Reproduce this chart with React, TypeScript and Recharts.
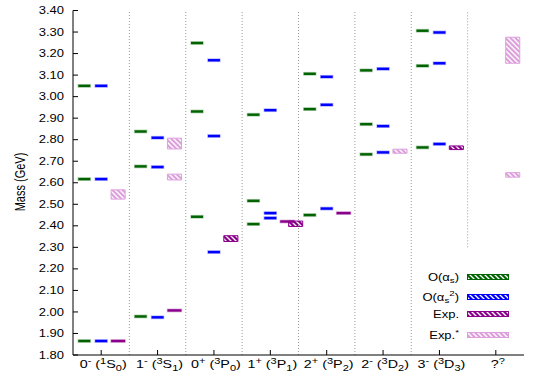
import React from "react";
import {
  ComposedChart,
  Scatter,
  XAxis,
  YAxis,
  ReferenceLine,
  ReferenceArea,
} from "recharts";

// quantum numbers for each column: J, parity, and 2S+1 / L / J term
const SPIN = ["0", "1", "0", "1", "2", "2", "3", "?"];
const PARITY = ["-", "-", "+", "+", "+", "-", "-", "?"];
const TERMS: (string[] | null)[] = [
  ["1", "S", "0"],
  ["3", "S", "1"],
  ["3", "P", "0"],
  ["3", "P", "1"],
  ["3", "P", "2"],
  ["3", "D", "2"],
  ["3", "D", "3"],
  null,
];

const Y_TICKS = [
  1.8, 1.9, 2.0, 2.1, 2.2, 2.3, 2.4, 2.5, 2.6, 2.7, 2.8, 2.9, 3.0, 3.1, 3.2, 3.3, 3.4,
];

// predicted masses (GeV) per column
const O_AS = [
  [3.05, 2.617, 1.865],
  [2.838, 2.676, 1.979],
  [3.249, 2.931, 2.442],
  [2.916, 2.516, 2.408],
  [3.106, 2.942, 2.45],
  [3.122, 2.872, 2.732],
  [3.306, 3.143, 2.764],
  [],
];
const O_AS2 = [
  [3.05, 2.617, 1.865],
  [2.809, 2.673, 1.975],
  [3.169, 2.817, 2.278],
  [2.937, 2.459, 2.436],
  [3.092, 2.962, 2.48],
  [3.129, 2.863, 2.741],
  [3.298, 3.155, 2.78],
  [],
];

// experimental states: narrow ones as levels, broad ones as bands
const EXP_LEVELS = [[1.865], [2.007], [], [2.42], [2.459], [], [], []];
const EXP_BANDS = [
  { cat: 2, lo: 2.327, hi: 2.354, slot: "exp" },
  { cat: 3, lo: 2.397, hi: 2.422, slot: "side" },
  { cat: 6, lo: 2.754, hi: 2.771, slot: "exp" },
];
const EXPSTAR_BANDS = [
  { cat: 0, lo: 2.524, hi: 2.567, slot: "exp" },
  { cat: 1, lo: 2.757, hi: 2.807, slot: "exp" },
  { cat: 1, lo: 2.613, hi: 2.64, slot: "exp" },
  { cat: 5, lo: 2.737, hi: 2.756, slot: "exp" },
  { cat: 7, lo: 3.155, hi: 3.276, slot: "exp" },
  { cat: 7, lo: 2.626, hi: 2.647, slot: "exp" },
];

const SLOT: Record<string, number> = { as: -0.3, as2: 0, exp: 0.3, side: 0.45 };

const GREEN = "#006400";
const BLUE = "#0000ff";
const PURPLE = "#8b008b";
const PLUM = "#dda0dd";
const FONT = "'Liberation Sans', Arial, sans-serif";
const SX = 1.3;

const toPoints = (rows: number[][], slot: string) =>
  rows.flatMap((vals, i) => vals.map((v) => ({ x: i + 0.5 + SLOT[slot], y: v })));

const levelShape = (color: string, w: number) => (props: any) => {
  const { cx, cy } = props;
  return (
    <rect
      x={cx - w / 2}
      y={cy - 1.2}
      width={w}
      height={2.4}
      fill={color}
      stroke={color}
      strokeOpacity={0.3}
      strokeWidth={1.4}
    />
  );
};

function ST({ x, y, anchor, children, size = 10 }: any) {
  return (
    <text
      transform={`translate(${x},${y}) scale(${SX},1)`}
      textAnchor={anchor}
      fontSize={size}
      fontFamily={FONT}
      fill="#000"
      style={{ whiteSpace: "pre" }}
    >
      {children}
    </text>
  );
}

const LeftTick = ({ x, y, payload }: any) => (
  <g>
    <line x1={x + 9} x2={x + 14} y1={y} y2={y} stroke="#000" />
    <ST x={x} y={y + 3.6} anchor="end">
      {payload.value.toFixed(2)}
    </ST>
  </g>
);

const RightTick = ({ x, y }: any) => (
  <line x1={x - 5} x2={x} y1={y} y2={y} stroke="#000" />
);

const TopTick = ({ x, y }: any) => (
  <line x1={x} x2={x} y1={y} y2={y + 5} stroke="#000" />
);

const BottomTick = ({ x, y, payload }: any) => {
  const i = Math.floor(payload.value);
  const t = TERMS[i];
  return (
    <g>
      <line x1={x} x2={x} y1={y} y2={y - 5} stroke="#000" />
      <ST x={x + 2} y={y + 13} anchor="middle" size={11}>
        <tspan>{SPIN[i]}</tspan>
        <tspan dy={-4.5} fontSize={8.5}>
          {PARITY[i]}
        </tspan>
        {t ? (
          <>
            <tspan dy={4.5}>{" ("}</tspan>
            <tspan dy={-4.5} fontSize={8.5}>
              {t[0]}
            </tspan>
            <tspan dy={4.5}>{t[1]}</tspan>
            <tspan dy={2.5} fontSize={8.5}>
              {t[2]}
            </tspan>
            <tspan dy={-2.5}>)</tspan>
          </>
        ) : null}
      </ST>
    </g>
  );
};

const hatch = (id: string, color: string) => (
  <pattern id={id} patternUnits="userSpaceOnUse" width={5} height={5}>
    <rect width={5} height={5} fill={color} />
    <path d="M-1,-1 L6,6 M-1,4 L1,6 M4,-1 L6,1" stroke="#fff" strokeWidth={1.3} />
  </pattern>
);

const X_TICKS = SPIN.map((_, i) => i + 0.5);
const SEPARATORS = SPIN.slice(1).map((_, i) => i + 1);

const LEGEND = [
  { key: "as", color: GREEN, y: 277 },
  { key: "as2", color: BLUE, y: 297 },
  { key: "exp", color: PURPLE, y: 314 },
  { key: "star", color: PLUM, y: 335 },
];

const legendText = (key: string) => {
  if (key === "as")
    return (
      <>
        <tspan>O(α</tspan>
        <tspan dy={2.5} fontSize={7.5}>s</tspan>
        <tspan dy={-2.5}>)</tspan>
      </>
    );
  if (key === "as2")
    return (
      <>
        <tspan>O(α</tspan>
        <tspan dy={2.5} fontSize={7.5}>s</tspan>
        <tspan dy={-7} fontSize={7.5}>2</tspan>
        <tspan dy={4.5}>)</tspan>
      </>
    );
  if (key === "exp") return <tspan>Exp.</tspan>;
  return (
    <>
      <tspan>Exp.</tspan>
      <tspan dy={-4} fontSize={7.5}>*</tspan>
    </>
  );
};

export default function App() {
  const bands = [
    ...EXP_BANDS.map((b) => ({ ...b, color: PURPLE, fillId: "h-exp" })),
    ...EXPSTAR_BANDS.map((b) => ({ ...b, color: PLUM, fillId: "h-star" })),
  ];
  return (
    <div style={{ position: "absolute", left: 0, top: 0, width: 538, height: 377, background: "#fff" }}>
      <ComposedChart
        width={538}
        height={377}
        margin={{ top: 10.5, right: 14, bottom: 0, left: 0 }}
      >
        <defs>
          {hatch("h-as", GREEN)}
          {hatch("h-as2", BLUE)}
          {hatch("h-exp", PURPLE)}
          {hatch("h-star", PLUM)}
        </defs>
        <XAxis
          type="number"
          dataKey="x"
          domain={[0, 8]}
          ticks={X_TICKS}
          height={22}
          tickSize={0}
          tickMargin={0}
          tickLine={false}
          axisLine={{ stroke: "#000" }}
          tick={<BottomTick />}
          interval={0}
        />
        <XAxis
          xAxisId="top"
          orientation="top"
          type="number"
          domain={[0, 8]}
          ticks={X_TICKS}
          height={0}
          tickSize={0}
          tickMargin={0}
          tickLine={false}
          axisLine={{ stroke: "#000" }}
          tick={<TopTick />}
          interval={0}
        />
        <YAxis
          type="number"
          dataKey="y"
          domain={[1.8, 3.4]}
          ticks={Y_TICKS}
          width={73}
          tickSize={0}
          tickMargin={9}
          tickLine={false}
          axisLine={{ stroke: "#000" }}
          tick={<LeftTick />}
          interval={0}
        />
        <YAxis
          yAxisId="right"
          orientation="right"
          type="number"
          domain={[1.8, 3.4]}
          ticks={Y_TICKS}
          width={0}
          tickSize={0}
          tickMargin={0}
          tickLine={false}
          axisLine={{ stroke: "#000" }}
          tick={<RightTick />}
          interval={0}
        />
        {SEPARATORS.map((s) => (
          <ReferenceLine
            key={s}
            segment={[
              { x: s, y: s === 7 ? 2.3 : 1.8 },
              { x: s, y: 3.4 },
            ]}
            stroke="#9a9a9a"
            strokeDasharray="1 2"
          />
        ))}
        {bands.map((b, i) => {
          const c = b.cat + 0.5 + SLOT[b.slot];
          return (
            <ReferenceArea
              key={i}
              x1={c - 0.125}
              x2={c + 0.125}
              y1={b.lo}
              y2={b.hi}
              fill={`url(#${b.fillId})`}
              fillOpacity={1}
              stroke={b.color}
              strokeWidth={1}
            />
          );
        })}
        <Scatter
          data={toPoints(O_AS, "as")}
          shape={levelShape(GREEN, 12)}
          isAnimationActive={false}
        />
        <Scatter
          data={toPoints(O_AS2, "as2")}
          shape={levelShape(BLUE, 12)}
          isAnimationActive={false}
        />
        <Scatter
          data={toPoints(EXP_LEVELS, "exp")}
          shape={levelShape(PURPLE, 14)}
          isAnimationActive={false}
        />
      </ComposedChart>
      <svg
        width={538}
        height={377}
        style={{ position: "absolute", left: 0, top: 0, pointerEvents: "none" }}
      >
        <text
          transform={`translate(25,182) scale(${SX},1) rotate(-90)`}
          textAnchor="middle"
          fontSize={11}
          fontFamily={FONT}
          fill="#000"
        >
          Mass (GeV)
        </text>
        {LEGEND.map((r) => (
          <g key={r.key}>
            <ST x={459} y={r.y + 3.6} anchor="end">
              {legendText(r.key)}
            </ST>
            <rect
              x={467.5}
              y={r.y - 2.5}
              width={41}
              height={5}
              fill={`url(#h-${r.key})`}
              stroke={r.color}
              strokeWidth={1}
            />
          </g>
        ))}
      </svg>
    </div>
  );
}
